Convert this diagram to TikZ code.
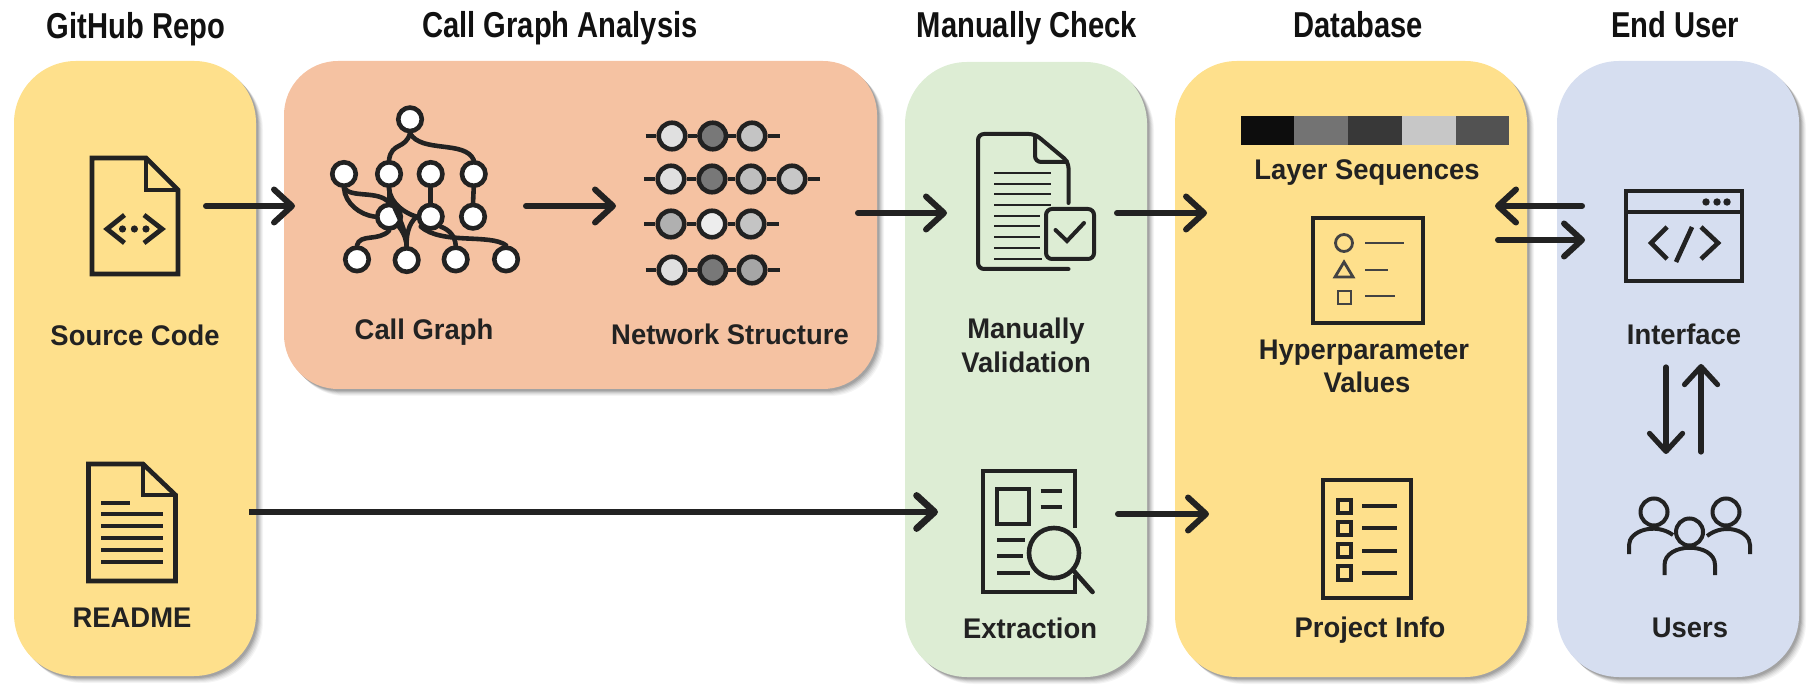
\documentclass[tikz,border=0pt]{standalone}
\usepackage{fontspec}
\setmainfont{Liberation Sans}
\usetikzlibrary{arrows.meta,shadows}
\definecolor{ink}{HTML}{222222}
\definecolor{headink}{HTML}{111111}
\definecolor{pyellow}{HTML}{FEE08C}
\definecolor{porange}{HTML}{F5C2A2}
\definecolor{pgreen}{HTML}{DDEDD4}
\definecolor{pblue}{HTML}{D6DEF0}
\tikzset{
  softshadow/.style={
    general shadow={shadow xshift=3.5pt,shadow yshift=-3.5pt,fill=black,opacity=.04},
    general shadow={shadow xshift=3pt,shadow yshift=-3pt,fill=black,opacity=.05},
    general shadow={shadow xshift=2.5pt,shadow yshift=-2.5pt,fill=black,opacity=.06},
    general shadow={shadow xshift=2pt,shadow yshift=-2pt,fill=black,opacity=.08},
    general shadow={shadow xshift=1.5pt,shadow yshift=-1.5pt,fill=black,opacity=.1},
    general shadow={shadow xshift=1pt,shadow yshift=-1pt,fill=black,opacity=.1}},
  panel/.style={rectangle,rounded corners=31pt,inner sep=0pt,outer sep=0pt,softshadow},
  panelb/.style={rectangle,rounded corners=27pt,inner sep=0pt,outer sep=0pt,softshadow},
  head/.style={anchor=base,text=headink,inner sep=0pt,font=\bfseries\fontsize{18}{21}\selectfont},
  lab/.style={anchor=base,text=ink,inner sep=0pt,font=\bfseries\fontsize{14.2}{17}\selectfont},
  flow/.style={draw=ink,line width=3pt,line cap=round,line join=round,-{Straight Barb[length=9pt,width=16.5pt,round]}},
  graphnode/.style={circle,draw=ink,fill=white,line width=2.3pt,minimum size=11.75pt,inner sep=0pt},
  graphedge/.style={draw=ink,line width=2.3pt,line cap=round},
  netnode/.style={circle,draw=ink,line width=2.3pt,minimum size=13.25pt,inner sep=0pt},
  netline/.style={draw=ink,line width=2.3pt},
  icon/.style={draw=ink,line width=2.3pt,line join=miter},
  thin icon/.style={draw=ink,line width=1.1pt,line cap=butt},
  bar icon/.style={draw=ink,line width=2.4pt},
}
\newcommand{\hd}[1]{\scalebox{.81}[1]{#1}}
\newcommand{\lb}[1]{\scalebox{.965}[1]{#1}}
\begin{document}
\begin{tikzpicture}[x=0.5pt,y=-0.5pt]
\useasboundingbox (0,0) rectangle (1813,694);
% panels
\node[panel,fill=pyellow,minimum width=121pt,minimum height=307.5pt] (repoPanel) at (135,368.5) {};
\node[panelb,fill=porange,minimum width=296.5pt,minimum height=164pt] (cgPanel) at (580.5,225) {};
\node[panel,fill=pgreen,minimum width=121pt,minimum height=307.5pt] (checkPanel) at (1026,369.5) {};
\node[panel,fill=pyellow,minimum width=176pt,minimum height=308pt] (dbPanel) at (1351,369) {};
\node[panel,fill=pblue,minimum width=121pt,minimum height=308pt] (userPanel) at (1678,369) {};
% headers
\node[head] (h1) at (136,39) {\hd{GitHub Repo}};
\node[head] (h2) at (560,38) {\hd{Call Graph Analysis}};
\node[head] (h3) at (1027,38) {\hd{Manually Check}};
\node[head] (h4) at (1358,38) {\hd{Database}};
\node[head] (h5) at (1675,38) {\hd{End User}};
% labels
\node[lab] (lSource) at (135,345.5) {\lb{Source Code}};
\node[lab] (lReadme) at (132,627) {\lb{README}};
\node[lab] (lCall) at (424,340) {\lb{Call Graph}};
\node[lab] (lNet) at (730,345) {\lb{Network Structure}};
\node[lab] (lMan) at (1026,339) {\lb{Manually}};
\node[lab] (lVal) at (1026,373) {\lb{Validation}};
\node[lab] (lExt) at (1030,638) {\lb{Extraction}};
\node[lab] (lLayer) at (1367,180) {\lb{Layer Sequences}};
\node[lab] (lHyp) at (1364,360) {\lb{Hyperparameter}};
\node[lab] (lVals) at (1367,393) {\lb{Values}};
\node[lab] (lProj) at (1370,637) {\lb{Project Info}};
\node[lab] (lIface) at (1684,345) {\lb{Interface}};
\node[lab] (lUsers) at (1690,637) {\lb{Users}};
% source code icon
\draw[icon] (146,158) -- (92,158) -- (92,274) -- (178,274) -- (178,190) -- cycle;
\draw[icon] (146,158) -- (146,190) -- (178,190);
\draw[icon,line width=2.4pt] (124.5,215) -- (107,229) -- (124.5,243);
\draw[icon,line width=2.4pt] (144,215) -- (162,229) -- (144,243);
\fill[ink] (122.5,229) circle (3.6) (134.4,229) circle (3.6) (146,229) circle (3.6);
% readme icon
\draw[icon] (143,464) -- (88.5,464) -- (88.5,581) -- (175.5,581) -- (175.5,495) -- cycle;
\draw[icon] (143,464) -- (143,495) -- (175.5,495);
\draw[bar icon] (101,503) -- (130,503);
\draw[bar icon] (101,514) -- (163,514) (101,526) -- (163,526) (101,538) -- (163,538) (101,550) -- (163,550) (101,562) -- (163,562);
% call graph, coordinates of a 3x crop at (310,90)
\begin{scope}[shift={(310,90)},x=0.1667pt,y=-0.1667pt]
\node[graphnode] (g0) at (300,88) {};
\node[graphnode] (g1) at (102,252) {};
\node[graphnode] (g2) at (237,252) {};
\node[graphnode] (g3) at (362,252) {};
\node[graphnode] (g4) at (491,252) {};
\node[graphnode] (g5) at (237,380) {};
\node[graphnode] (g6) at (362,380) {};
\node[graphnode] (g7) at (489,380) {};
\node[graphnode] (g8) at (141,508) {};
\node[graphnode] (g9) at (290,510) {};
\node[graphnode] (g10) at (437,508) {};
\node[graphnode] (g11) at (588,508) {};
\draw[graphedge] (g0.south) .. controls (285,180) and (245,155) .. (g2.north);
\draw[graphedge] (g0.south) .. controls (335,190) and (465,150) .. (g4.north);
\draw[graphedge] (g1.south) .. controls (125,325) and (205,300) .. (g5.north);
\draw[graphedge] (g1.south) .. controls (105,340) and (150,375) .. (g5.west);
\draw[graphedge] (g2.south) -- (g5.north);
\draw[graphedge] (g2.south) .. controls (240,340) and (285,370) .. (g6.west);
\draw[graphedge] (g2.south) .. controls (240,350) and (285,390) .. (g9.north);
\draw[graphedge] (g3.south) -- (g6.north);
\draw[graphedge] (g4.south) -- (g7.north);
\draw[graphedge] (g5.south) .. controls (205,455) and (150,430) .. (g8.north);
\draw[graphedge] (g5.south east) .. controls (275,420) and (288,440) .. (g9.north);
\draw[graphedge] (g6.west) .. controls (295,400) and (288,440) .. (g9.north);
\draw[graphedge] (g6.south east) .. controls (420,420) and (435,440) .. (g10.north);
\draw[graphedge] (g6.south west) .. controls (395,465) and (540,430) .. (g11.north);
\end{scope}
% network structure
\node[netnode,fill=black!12] (n11) at (672,136) {};
\node[netnode,fill=black!53] (n12) at (712.7,136) {};
\node[netnode,fill=black!23] (n13) at (752,136) {};
\coordinate (n1s) at (645.5,136); \coordinate (n1e) at (780,136);
\draw[netline] (n1s) -- (n11) (n11) -- (n12) (n12) -- (n13) (n13) -- (n1e);
\node[netnode,fill=black!12] (n21) at (671,179) {};
\node[netnode,fill=black!53] (n22) at (712,179) {};
\node[netnode,fill=black!25] (n23) at (751,179) {};
\node[netnode,fill=black!22] (n24) at (792,179) {};
\coordinate (n2s) at (644,179); \coordinate (n2e) at (820,179);
\draw[netline] (n2s) -- (n21) (n21) -- (n22) (n22) -- (n23) (n23) -- (n24) (n24) -- (n2e);
\node[netnode,fill=black!31] (n31) at (671,224) {};
\node[netnode,fill=black!7] (n32) at (712,224) {};
\node[netnode,fill=black!23] (n33) at (751,224) {};
\coordinate (n3s) at (644,224); \coordinate (n3e) at (779,224);
\draw[netline] (n3s) -- (n31) (n31) -- (n32) (n32) -- (n33) (n33) -- (n3e);
\node[netnode,fill=black!12] (n41) at (672,270) {};
\node[netnode,fill=black!53] (n42) at (712.7,270) {};
\node[netnode,fill=black!35] (n43) at (752,270) {};
\coordinate (n4s) at (645.5,270); \coordinate (n4e) at (780,270);
\draw[netline] (n4s) -- (n41) (n41) -- (n42) (n42) -- (n43) (n43) -- (n4e);
% manual validation icon
\draw[icon,line width=2pt,line cap=round,rounded corners=3pt] (1068.5,203) -- (1068.5,162) -- (1035,134) -- (978,134) -- (978,269) -- (1068.5,269);
\draw[icon,line width=2pt,rounded corners=3pt] (1035,134) -- (1035,162) -- (1068.5,162);
\foreach \yy/\xx in {173/1051,184/1051,194/1051,205/1051,216/1040,226/1040,237/1040,248/1040,259/1042}
  \draw[thin icon] (994,\yy) -- (\xx,\yy);
\draw[icon,line width=2pt,rounded corners=3pt] (1046,209) rectangle (1094,259);
\draw[icon,line width=2pt,line cap=round] (1055.5,230) -- (1067,241) -- (1084,223);
% extraction icon
\draw[icon] (1075,528) -- (1075,471) -- (983,471) -- (983,592) -- (1075,592) -- (1075,575);
\draw[icon] (997,489) rectangle (1029,524);
\draw[bar icon] (1040.6,491) -- (1062,491) (1040.6,507) -- (1062,507);
\draw[bar icon] (997,540) -- (1025,540) (997,556) -- (1023,556) (997,573) -- (1030,573);
\draw[icon] (1054,553) circle (25);
\draw[icon,line cap=round] (1073,570) -- (1092.5,592);
% colour bar
\fill[fill=black!95] (1241,116) rectangle (1294,145);
\fill[fill=black!55] (1294,116) rectangle (1348,145);
\fill[fill=black!78] (1348,116) rectangle (1402,145);
\fill[fill=black!22] (1402,116) rectangle (1456,145);
\fill[fill=black!68] (1456,116) rectangle (1509,145);
% hyperparameter icon
\draw[icon] (1313,218) rectangle (1423,323);
\draw[draw=ink!85,line width=1.4pt] (1344,243) circle (8.5);
\draw[draw=ink!85,line width=1.4pt] (1344,262) -- (1353,277) -- (1335,277) -- cycle;
\draw[draw=ink!85,line width=1.4pt] (1338,291) rectangle (1351,304);
\draw[draw=ink!85,line width=1.3pt] (1365,243) -- (1404,243) (1365,270) -- (1388,270) (1365,296) -- (1395,296);
% project info icon
\draw[icon] (1323,480) rectangle (1411,598);
\draw[draw=ink,line width=2pt] (1338,500) rectangle (1351,513) (1338,522) rectangle (1351,535) (1338,544) rectangle (1351,557) (1338,566) rectangle (1351,580);
\draw[bar icon] (1362,506) -- (1397,506) (1362,528) -- (1397,528) (1362,551) -- (1397,551) (1362,573) -- (1397,573);
% interface icon
\draw[icon] (1626,191) rectangle (1742,281);
\draw[icon] (1626,212) -- (1742,212);
\fill[ink] (1706,202) circle (3.7) (1717,202) circle (3.7) (1727,202) circle (3.7);
\draw[icon] (1667,227) -- (1651,243) -- (1667,259);
\draw[icon] (1701,227) -- (1718,243) -- (1701,259);
\draw[icon] (1692,227) -- (1676,262);
% users icon
\draw[icon,line width=2pt] (1654,512) circle (13.5) (1726,512) circle (13.5) (1689.5,532) circle (13.5);
\draw[icon,line width=2pt] (1629,554) -- (1629,545) .. controls (1629,531) and (1655,522) .. (1673,535);
\draw[icon,line width=2pt] (1750,554) -- (1750,545) .. controls (1750,531) and (1725,522) .. (1707,536);
\draw[icon,line width=2pt] (1664.5,575) -- (1664.5,565) .. controls (1664.5,542) and (1715,542) .. (1715,565) -- (1715,575);
% arrows
\coordinate (a1s) at (206,206); \coordinate (a1e) at (295,206);
\coordinate (a2s) at (526,206); \coordinate (a2e) at (616,206);
\coordinate (a3s) at (858,213); \coordinate (a3e) at (947,213);
\coordinate (a4s) at (1117,213); \coordinate (a4e) at (1207,213);
\coordinate (a5s) at (249,512); \coordinate (a5e) at (938,512);
\coordinate (a6s) at (1118,514); \coordinate (a6e) at (1209,514);
\coordinate (a7s) at (1582,206); \coordinate (a7e) at (1495,206);
\coordinate (a8s) at (1498,240); \coordinate (a8e) at (1585,240);
\coordinate (a9s) at (1701,452); \coordinate (a9e) at (1701,364);
\coordinate (a10s) at (1666,367); \coordinate (a10e) at (1666,454);
\draw[flow] (a1s) -- (a1e);
\draw[flow] (a2s) -- (a2e);
\draw[flow] (a3s) -- (a3e);
\draw[flow] (a4s) -- (a4e);
\draw[flow,line width=3.4pt,line cap=butt] (a5s) -- (a5e);
\draw[flow] (a6s) -- (a6e);
\draw[flow] (a7s) -- (a7e);
\draw[flow] (a8s) -- (a8e);
\draw[flow,line width=2.6pt] (a9s) -- (a9e);
\draw[flow,line width=2.6pt] (a10s) -- (a10e);
\end{tikzpicture}
\end{document}
